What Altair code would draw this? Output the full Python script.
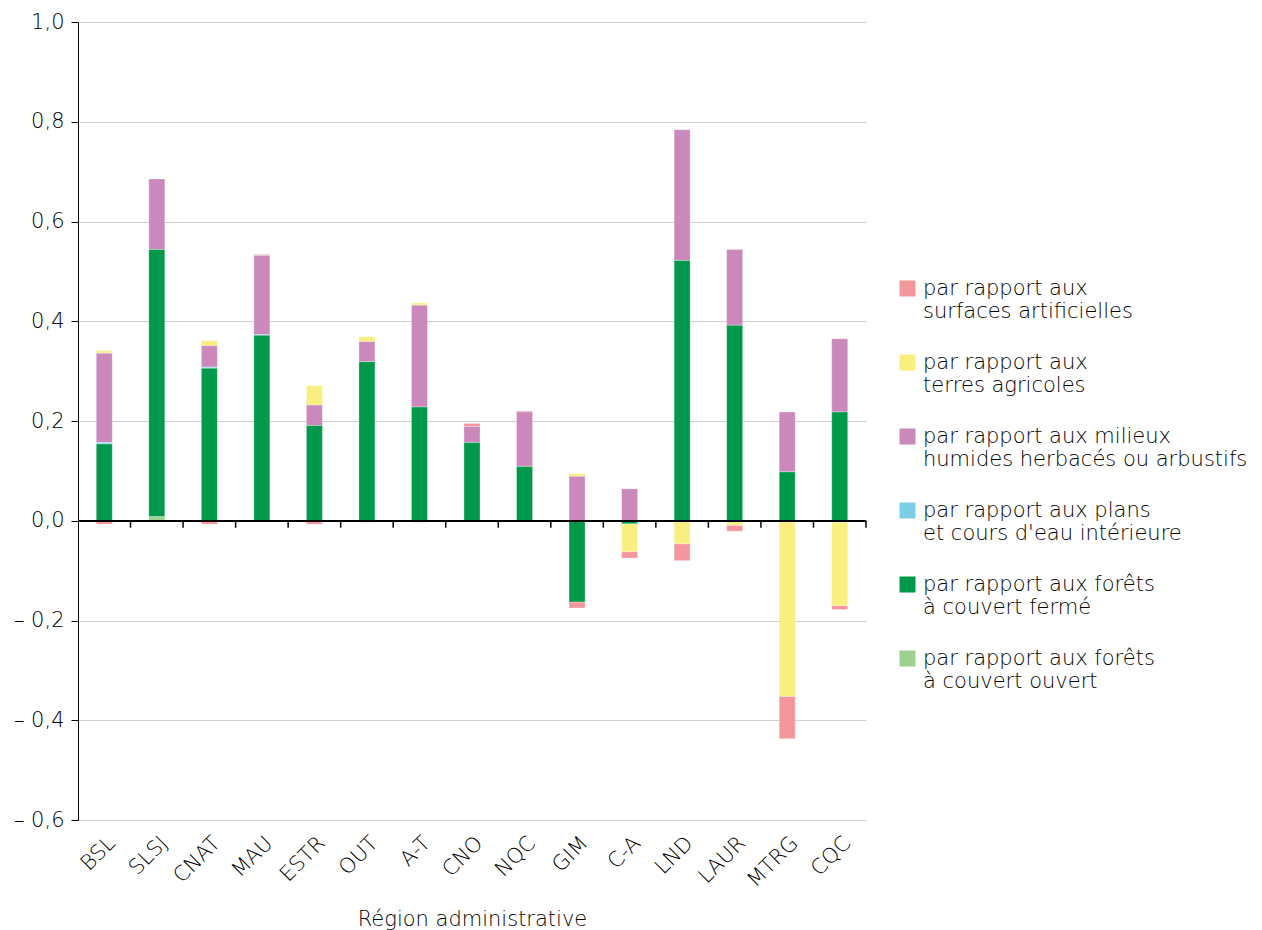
import altair as alt
import pandas as pd

regions = ["BSL", "SLSJ", "CNAT", "MAU", "ESTR", "OUT", "A-T", "CNO", "NQC",
           "GIM", "C-A", "LND", "LAUR", "MTRG", "CQC"]

series = [
    "par rapport aux|surfaces artificielles",
    "par rapport aux|terres agricoles",
    "par rapport aux milieux|humides herbacés ou arbustifs",
    "par rapport aux plans|et cours d'eau intérieure",
    "par rapport aux forêts|à couvert fermé",
    "par rapport aux forêts|à couvert ouvert",
]
colors = ["#f4979d", "#f8ef7e", "#cb88bb", "#7ccfe8", "#00984a", "#9dd18f"]

artificielles = [-0.007, 0.0, -0.007, 0.002, -0.007, -0.003, -0.003, 0.006, 0.002,
                 -0.012, -0.013, -0.034, -0.012, -0.085, -0.008]
agricoles = [0.005, 0.0, 0.010, 0.0, 0.039, 0.010, 0.005, 0.0, 0.0,
             0.005, -0.056, -0.046, -0.009, -0.352, -0.167]
humides = [0.179, 0.141, 0.043, 0.159, 0.041, 0.040, 0.204, 0.032, 0.109,
           0.089, 0.064, 0.262, 0.152, 0.120, 0.147]
eau = [0.003, 0.0, 0.002, 0.001, 0.0, 0.0, 0.0, 0.0, 0.0,
       0.0, 0.0, 0.0, 0.0, 0.0, -0.003]
ferme = [0.154, 0.536, 0.306, 0.372, 0.191, 0.319, 0.228, 0.157, 0.109,
         -0.163, -0.006, 0.522, 0.392, 0.098, 0.218]
ouvert = [0.0, 0.008, 0.0, 0.0, 0.0, 0.0, 0.0, 0.0, 0.0,
          0.0, 0.0, 0.0, 0.0, 0.0, 0.0]

y_ticks = [-0.6, -0.4, -0.2, 0.0, 0.2, 0.4, 0.6, 0.8, 1.0]

values_by_series = [artificielles, agricoles, humides, eau, ferme, ouvert]
rows = []
for si, (name, vals) in enumerate(zip(series, values_by_series)):
    for r, v in zip(regions, vals):
        rows.append({"region": r, "series": name, "value": v, "ord": len(series) - 1 - si})
df = pd.DataFrame(rows)
df_regions = pd.DataFrame({"region": regions})

FONT = "DejaVu Sans"
FS = 21
TXT = "#000000"

x_axis = alt.Axis(title="Région administrative", labelAngle=-45, domain=False, ticks=False,
                  labelAlign="right", labelBaseline="top", labelFontSize=FS,
                  labelPadding=12, titlePadding=18, titleFontSize=FS,
                  titleFontWeight=300, labelFontWeight=300, labelColor=TXT, titleColor=TXT,
                  labelFont=FONT, titleFont=FONT)
x_scale = alt.Scale(paddingInner=0, paddingOuter=0)

y_label_expr = ("datum.value < 0 ? '\u2013 ' + replace(format(-datum.value, '.1f'), '.', ',')"
                " : replace(format(datum.value, '.1f'), '.', ',')")

bars = alt.Chart(df).transform_filter("datum.value != 0").mark_bar(
    size=16, stroke="white", strokeWidth=0.6, strokeOpacity=0.5
).encode(
    x=alt.X("region:N", sort=regions, scale=x_scale, axis=x_axis),
    y=alt.Y("value:Q", stack="zero",
            scale=alt.Scale(domain=[-0.6, 1.0], nice=False, zero=False),
            axis=alt.Axis(title=None, values=y_ticks, labelExpr=y_label_expr,
                          grid=True, gridColor="#d0d0d0", domainColor="black",
                          tickColor="black", tickSize=7, labelPadding=7,
                          labelFontSize=FS, labelFontWeight=300, labelColor=TXT,
                          labelFont=FONT)),
    color=alt.Color("series:N",
                    scale=alt.Scale(domain=series, range=colors),
                    legend=alt.Legend(title=None, orient="none", legendX=819, legendY=256,
                                      symbolType="square", symbolSize=256,
                                      symbolStrokeWidth=0, labelExpr="split(datum.label, '|')",
                                      labelFontSize=FS, labelFontWeight=300, labelLimit=500,
                                      rowPadding=29, labelOffset=5, labelColor=TXT,
                                      labelFont=FONT)),
    order=alt.Order("ord:Q", sort="ascending"),
)

zero_line = alt.Chart(df_regions).mark_rule(color="black", strokeWidth=1.5).encode(
    y=alt.datum(0)
)

ticks = alt.Chart(df_regions).mark_rule(color="black", strokeWidth=1.5).encode(
    x=alt.X("region:N", sort=regions, bandPosition=1, scale=x_scale, axis=x_axis),
    y=alt.datum(0),
    y2=alt.datum(-0.014),
)

chart = alt.layer(bars, zero_line, ticks).properties(
    width=788, height=798,
    padding={"left": 5, "top": 3, "right": 0, "bottom": 5},
).configure(font=FONT).configure_view(stroke=None)

chart.save("out.html", embed_options={"renderer": "svg", "actions": False})
